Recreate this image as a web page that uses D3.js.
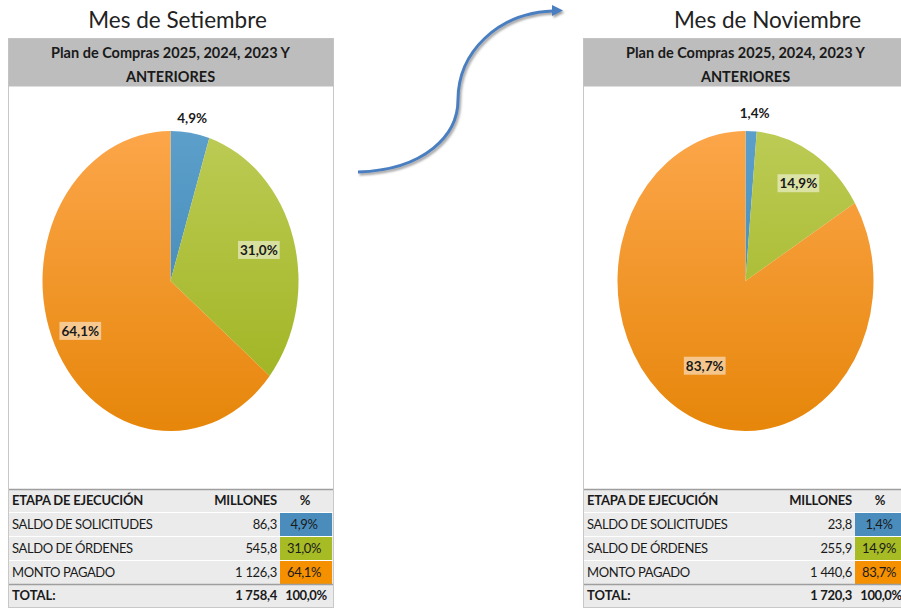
<!DOCTYPE html>
<html>
<head>
<meta charset="utf-8">
<script src="https://cdn.jsdelivr.net/npm/d3@7"></script>
<style>
  html, body { margin: 0; padding: 0; background: #ffffff; }
  svg { display: block; }
  text { font-family: Lato, "Open Sans", sans-serif; }
</style>
</head>
<body>
<svg id="chart" width="901" height="608"></svg>
<script>
// Execution stages of the purchase plan
const categories = ["SALDO DE SOLICITUDES", "SALDO DE ÓRDENES", "MONTO PAGADO"];
const monthTitles = ["Mes de Setiembre", "Mes de Noviembre"];
const headerLines = ["Plan de Compras 2025, 2024, 2023 Y", "ANTERIORES"];
const tableHeaders = ["ETAPA DE EJECUCIÓN", "MILLONES", "%"];

// September: millions and share
const sepMillones = [86.3, 545.8, 1126.3];
const sepPct = [4.9, 31.0, 64.1];
const sepTotal = 1758.4;

// November: millions and share
const novMillones = [23.8, 255.9, 1440.6];
const novPct = [1.4, 14.9, 83.7];
const novTotal = 1720.3;

const totalPct = 100.0;

const sliceTop = ["#5c9fcb", "#bccb55", "#fca64a"];
const sliceBottom = ["#387fae", "#9db11b", "#e6860a"];
const cellColors = ["#4a8dbc", "#a7bb25", "#f59100"];

const locale = d3.formatLocale({ decimal: ",", thousands: " ", grouping: [3], currency: ["", ""] });
const fmtNum = locale.format(",.1f");
const fmtPct = v => locale.format(".1f")(v) + "%";

const svg = d3.select("#chart");
const defs = svg.append("defs");

// soft shadow for the connecting arrow
const shadow = defs.append("filter").attr("id", "arrowShadow")
  .attr("x", "-20%").attr("y", "-20%").attr("width", "140%").attr("height", "140%");
shadow.append("feDropShadow").attr("dx", 1.5).attr("dy", 2).attr("stdDeviation", 1.2)
  .attr("flood-color", "#777").attr("flood-opacity", 0.7);

const panels = [
  { x0: 8, titleDx: 7, title: monthTitles[0], millones: sepMillones, pct: sepPct, total: sepTotal, id: "sep" },
  { x0: 583, titleDx: 22, title: monthTitles[1], millones: novMillones, pct: novPct, total: novTotal, id: "nov" }
];

const panelW = 325;
const panelTop = 38;
const headerH = 48;
const panelBottom = 607;
const pieCy = 281;
const ry = 150;
const rx = 128;

// per-slice label placement: radius fraction, angular nudge (rad), backing box
const labelSpec = {
  sep: [{ f: 1.10, da: 0, box: false }, { f: 0.72, da: 0, box: true }, { f: 0.78, da: 0, box: true }],
  nov: [{ f: 1.12, da: 0.02, box: false }, { f: 0.77, da: 0.01, box: true }, { f: 0.65, da: 0, box: true }]
};

panels.forEach((p, pi) => {
  const g = svg.append("g");
  const cx = p.x0 + panelW / 2;

  // month title
  g.append("text").attr("x", cx + p.titleDx).attr("y", 28)
    .attr("text-anchor", "middle").attr("font-size", 22.5).attr("fill", "#222")
    .text(p.title);

  // panel frame
  g.append("rect").attr("x", p.x0 + 0.5).attr("y", panelTop + 0.5)
    .attr("width", panelW).attr("height", panelBottom - panelTop)
    .attr("fill", "#ffffff").attr("stroke", "#c8c8c8").attr("stroke-width", 1);

  // grey header band
  g.append("rect").attr("x", p.x0 + 0.5).attr("y", panelTop + 0.5)
    .attr("width", panelW).attr("height", headerH)
    .attr("fill", "#bdbdbd");
  headerLines.forEach((t, i) => {
    g.append("text").attr("x", cx).attr("y", panelTop + 19.5 + i * 24)
      .attr("text-anchor", "middle").attr("font-size", 14.5).attr("font-weight", "bold")
      .attr("fill", "#1a1a1a").text(t);
  });

  // vertical gradients per slice
  p.pct.forEach((v, i) => {
    const lg = defs.append("linearGradient").attr("id", `grad-${p.id}-${i}`)
      .attr("gradientUnits", "userSpaceOnUse")
      .attr("x1", 0).attr("x2", 0).attr("y1", -ry).attr("y2", ry);
    lg.append("stop").attr("offset", "0%").attr("stop-color", sliceTop[i]);
    lg.append("stop").attr("offset", "100%").attr("stop-color", sliceBottom[i]);
  });

  // pie, drawn on a circle and stretched horizontally into an ellipse
  const pie = d3.pie().sort(null).value(d => d);
  const arcs = pie(p.pct);
  const arc = d3.arc().innerRadius(0).outerRadius(ry);
  const pieG = g.append("g").attr("transform", `translate(${cx},${pieCy})`);
  pieG.append("g").attr("transform", `scale(${rx / ry},1)`)
    .selectAll("path").data(arcs).join("path")
    .attr("d", arc)
    .attr("fill", (d, i) => `url(#grad-${p.id}-${i})`);

  // slice labels
  arcs.forEach((a, i) => {
    const spec = labelSpec[p.id][i];
    const mid = (a.startAngle + a.endAngle) / 2 + spec.da;
    const lx = Math.sin(mid) * ry * spec.f * (rx / ry);
    const ly = -Math.cos(mid) * ry * spec.f;
    const lab = pieG.append("g").attr("transform", `translate(${lx},${ly})`);
    const txt = lab.append("text").attr("text-anchor", "middle").attr("dy", "0.35em")
      .attr("font-size", 13.5).attr("font-weight", "bold").attr("fill", "#1a1a1a")
      .text(fmtPct(p.pct[i]));
    if (spec.box) {
      const bb = txt.node().getBBox();
      lab.insert("rect", "text")
        .attr("x", bb.x - 2).attr("y", bb.y - 1)
        .attr("width", bb.width + 4).attr("height", bb.height + 2)
        .attr("fill", "#ffffff").attr("fill-opacity", 0.5);
    }
  });

  // data table
  const tTop = 489;
  const rowH = [23, 24, 24, 24, 23];
  const rowY = [tTop];
  rowH.forEach((h, i) => rowY.push(rowY[i] + h));
  const numRight = p.x0 + 272;
  const pctX0 = p.x0 + 272;
  const pctW = 52;
  const pctMid = p.x0 + 296;

  g.append("rect").attr("x", p.x0 + 1).attr("y", tTop)
    .attr("width", panelW - 1).attr("height", panelBottom - tTop)
    .attr("fill", "#ebebeb");

  // coloured share cells
  p.pct.forEach((v, i) => {
    g.append("rect").attr("x", pctX0).attr("y", rowY[i + 1] + 1)
      .attr("width", pctW).attr("height", rowH[i + 1] - 1)
      .attr("fill", cellColors[i]);
  });

  // row rules
  rowY.slice(1, 5).forEach((y, i) => {
    g.append("line").attr("x1", p.x0 + 1).attr("x2", p.x0 + panelW)
      .attr("y1", y + 0.5).attr("y2", y + 0.5)
      .attr("stroke", i === 3 ? "#9e9e9e" : "#ffffff").attr("stroke-width", i === 3 ? 1.5 : 1);
  });
  g.append("line").attr("x1", p.x0 + 1).attr("x2", p.x0 + panelW)
    .attr("y1", tTop + 0.5).attr("y2", tTop + 0.5)
    .attr("stroke", "#9e9e9e").attr("stroke-width", 1.5);

  const textY = i => rowY[i] + rowH[i] / 2 + 4.5;
  const fs = 13;

  // header row
  g.append("text").attr("x", p.x0 + 4).attr("y", textY(0))
    .attr("font-size", fs).attr("font-weight", "bold").attr("fill", "#1a1a1a")
    .attr("letter-spacing", -0.2).text(tableHeaders[0]);
  g.append("text").attr("x", numRight - 3).attr("y", textY(0)).attr("text-anchor", "end")
    .attr("font-size", fs).attr("font-weight", "bold").attr("fill", "#1a1a1a")
    .attr("letter-spacing", -0.2).text(tableHeaders[1]);
  g.append("text").attr("x", pctMid + 1).attr("y", textY(0)).attr("text-anchor", "middle")
    .attr("font-size", fs).attr("font-weight", "bold").attr("fill", "#1a1a1a")
    .text(tableHeaders[2]);

  // body rows
  categories.forEach((c, i) => {
    const y = textY(i + 1);
    g.append("text").attr("x", p.x0 + 4).attr("y", y)
      .attr("font-size", fs).attr("fill", "#1a1a1a").attr("letter-spacing", -0.4).text(c);
    g.append("text").attr("x", numRight - 3).attr("y", y).attr("text-anchor", "end")
      .attr("font-size", fs).attr("fill", "#1a1a1a").attr("letter-spacing", -0.3)
      .text(fmtNum(p.millones[i]));
    g.append("text").attr("x", pctMid).attr("y", y).attr("text-anchor", "middle")
      .attr("font-size", fs).attr("fill", "#1a1a1a").attr("letter-spacing", -0.4)
      .text(fmtPct(p.pct[i]));
  });

  // total row
  const ty = textY(4);
  g.append("text").attr("x", p.x0 + 4).attr("y", ty)
    .attr("font-size", fs).attr("font-weight", "bold").attr("fill", "#1a1a1a").text("TOTAL:");
  g.append("text").attr("x", numRight - 3).attr("y", ty).attr("text-anchor", "end")
    .attr("font-size", fs).attr("font-weight", "bold").attr("fill", "#1a1a1a")
    .attr("letter-spacing", -0.3).text(fmtNum(p.total));
  g.append("text").attr("x", pctMid + 2).attr("y", ty).attr("text-anchor", "middle")
    .attr("font-size", fs).attr("font-weight", "bold").attr("fill", "#1a1a1a")
    .attr("letter-spacing", -0.4).text(fmtPct(totalPct));
});

// curved arrow linking the two months
const arrow = svg.append("g").attr("filter", "url(#arrowShadow)");
arrow.append("path")
  .attr("d", "M358,172 C425,170 458,135 458,100 C458,52 498,13 553,11")
  .attr("fill", "none").attr("stroke", "#4a7fc0").attr("stroke-width", 3);
arrow.append("path")
  .attr("d", "M552,5 L563,10.5 L552,16 Z")
  .attr("fill", "#4a7fc0");
</script>
</body>
</html>
